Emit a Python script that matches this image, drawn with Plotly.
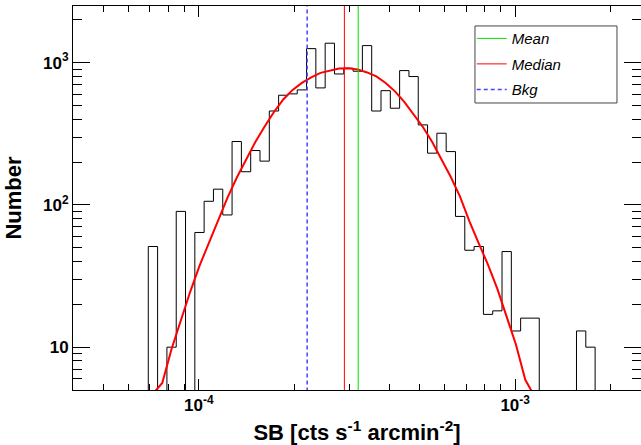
import numpy as np
import plotly.graph_objects as go

# ---- data ----
hist_lo = 6.92e-5          # left edge of first bin
hist_hi = 1.79e-3          # right edge of last bin
counts = [51, 0, 10, 90, 0, 64, 106, 129, 85, 279,
          171, 241, 203, 457, 590, 603, 643, 1254, 664, 1369,
          832, 913, 870, 1317, 457, 635, 478, 879, 798, 365,
          231, 319, 237, 83, 48, 51, 17, 18, 47, 13,
          16, 16, 0, 0, 0, 0, 13, 10]
# fitted curve sampled at the centres of the first bins
fit_vals = [4.7, 5.6, 9.7, 15.6, 24.5, 37.3, 53.6, 78.5, 112, 155,
            209, 277, 356, 450, 551, 643, 720, 787, 847, 882,
            910, 912, 896, 853, 800, 720, 628, 529, 432, 353,
            277, 209, 157, 114, 76.6, 53.6, 37.9, 25.7, 16.3, 10.4,
            5.9, 4.5]
mean_sb = 3.19e-4
median_sb = 2.885e-4
bkg_sb = 2.20e-4
legend_names = ["Mean", "Median", "Bkg"]
x_ticks = [1e-4, 1e-3]
x_ticktext = ["10<sup>-4</sup>", "10<sup>-3</sup>"]
y_ticks = [10, 100, 1000]
y_ticktext = ["10", "10<sup>2</sup>", "10<sup>3</sup>"]
x_minor = [5e-5, 6e-5, 7e-5, 8e-5, 9e-5, 2e-4, 3e-4, 4e-4, 5e-4, 6e-4, 7e-4, 8e-4, 9e-4, 2e-3]
y_minor = [6, 7, 8, 9, 20, 30, 40, 50, 60, 70, 80, 90, 200, 300, 400, 500, 600, 700, 800, 900, 2000]

# ---- derived geometry ----
nb = len(counts)
edges = np.geomspace(hist_lo, hist_hi, nb + 1)
centers = np.sqrt(edges[:-1] * edges[1:])
floor = 0.1  # zero-count bins drop below the axis
hx, hy = [edges[0]], [floor]
for i, c in enumerate(counts):
    v = c if c > 0 else floor
    hx += [edges[i], edges[i + 1]]
    hy += [v, v]
hx.append(edges[-1]); hy.append(floor)

yr = [np.log10(5), np.log10(2500)]
xr = [np.log10(4e-5), np.log10(2.5e-3)]
yline = [1, 1e4]

fig = go.Figure()
# invisible trace so that the minor-tick overlay axes are drawn
fig.add_trace(go.Scatter(x=[1e-4], y=[10], xaxis="x2", yaxis="y2", mode="markers",
                         marker=dict(opacity=0), showlegend=False, hoverinfo="skip"))
fig.add_trace(go.Scatter(x=hx, y=hy, mode="lines", line=dict(color="black", width=1),
                         showlegend=False, hoverinfo="skip"))
fig.add_trace(go.Scatter(x=centers[:len(fit_vals)], y=fit_vals, mode="lines",
                         line=dict(color="#ff0000", width=2), showlegend=False))
fig.add_trace(go.Scatter(x=[mean_sb, mean_sb], y=yline, mode="lines", name=legend_names[0],
                         line=dict(color="#00e000", width=1), legendgroup="a"))
fig.add_trace(go.Scatter(x=[median_sb, median_sb], y=yline, mode="lines", name=legend_names[1],
                         line=dict(color="#ff0000", width=1), legendgroup="b"))
fig.add_trace(go.Scatter(x=[bkg_sb, bkg_sb], y=yline, mode="lines", name=legend_names[2],
                         line=dict(color="#4444ff", width=1.5, dash="4px,3px"), legendgroup="c"))

axis_font = dict(family="Liberation Sans", size=17, color="black", weight="bold")
title_font = dict(family="Liberation Sans", size=22, color="black", weight="bold")
fig.update_layout(
    width=641, height=445,
    margin=dict(l=73, r=0, t=6, b=55),
    paper_bgcolor="white", plot_bgcolor="white",
    showlegend=True,
    legend=dict(x=0.702, y=0.958, xanchor="left", yanchor="top",
                bgcolor="rgba(0,0,0,0)", borderwidth=0,
                font=dict(family="Liberation Sans", size=15, color="black", style="italic"),
                tracegroupgap=3, traceorder="grouped"),
    shapes=[dict(type="rect", xref="paper", yref="paper", x0=0.7077, x1=0.9577,
                 y0=0.7474, y1=0.948, line=dict(color="#444444", width=1),
                 fillcolor="white", layer="above")],
    xaxis=dict(type="log", range=xr, showgrid=False, zeroline=False, automargin=False,
               showline=True, linecolor="black", linewidth=1, mirror="allticks",
               ticks="inside", ticklen=11, tickwidth=1, tickcolor="black",
               tickmode="array", tickvals=x_ticks, ticktext=x_ticktext,
               tickfont=axis_font,
               title=dict(text="SB [cts s<sup>-1</sup> arcmin<sup>-2</sup>]", font=title_font)),
    yaxis=dict(type="log", range=yr, showgrid=False, zeroline=False, automargin=False,
               showline=True, linecolor="black", linewidth=1, mirror="allticks",
               ticks="inside", ticklen=17, tickwidth=1, tickcolor="black",
               tickmode="array", tickvals=y_ticks, ticktext=y_ticktext,
               tickfont=axis_font,
               title=dict(text="Number", font=title_font)),
    xaxis2=dict(type="log", range=xr, overlaying="x", anchor="y2", showgrid=False,
                zeroline=False, automargin=False, showline=False, mirror="allticks",
                ticks="inside", ticklen=6, tickwidth=1, tickcolor="black",
                tickmode="array", tickvals=x_minor, showticklabels=False),
    yaxis2=dict(type="log", range=yr, overlaying="y", anchor="x2", showgrid=False,
                zeroline=False, automargin=False, showline=False, mirror="allticks",
                ticks="inside", ticklen=9, tickwidth=1, tickcolor="black",
                tickmode="array", tickvals=y_minor, showticklabels=False),
)
fig.write_html("out.html", config={"displayModeBar": False},
               post_script="document.body.style.margin='0';")
